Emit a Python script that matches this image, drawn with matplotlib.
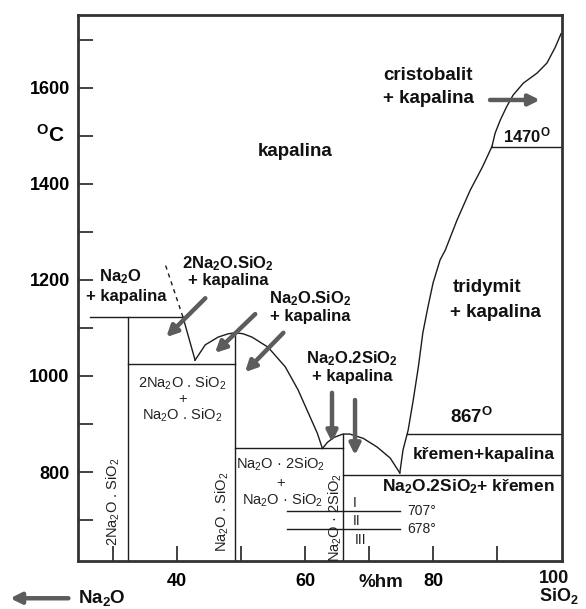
"""Fázový diagram Na2O-SiO2 (kapalina, eutektika, polymorfní přeměny)."""

import matplotlib
matplotlib.use("Agg")
import matplotlib.pyplot as plt

# ---- data: composition in wt% SiO2, temperature in °C ----
x_c2s = 32.3          # 2Na2O.SiO2
x_ns = 49.1           # Na2O.SiO2
x_ns2 = 65.9          # Na2O.2SiO2

# metastable extension of the 2Na2O.SiO2 liquidus (dashed)
dash_x = [38.2, 40.9]
dash_t = [1230, 1123]

# liquidus branches
liq_c2s_x = [40.9, 42.8]
liq_c2s_t = [1123, 1033]
liq_ns_x = [42.8, 44.4, 46.4, 48.0, 49.1, 50.3, 51.7, 54.2, 56.9, 58.9, 60.5, 61.9, 62.7]
liq_ns_t = [1033, 1065, 1081, 1088, 1090, 1088, 1081, 1060, 1019, 971, 923, 881, 849]
liq_ns2_x = [62.7, 63.5, 64.5, 65.9, 67.0, 69.1, 71.25, 73.3, 74.8]
liq_ns2_t = [849, 862, 872, 879, 879, 870, 852, 829, 798]
liq_trid_x = [74.8, 75.3, 76.1, 76.9, 77.7, 78.4, 79.2, 80.0, 81.1, 81.9,
              83.75, 85.8, 87.7, 89.2]
liq_trid_t = [798, 846, 887, 950, 1019, 1090, 1144, 1194, 1242, 1262,
              1325, 1387, 1435, 1478]
liq_crist_x = [89.2, 89.7, 90.5, 91.5, 92.5, 94.1, 96.25, 97.8, 99.1, 100.0]
liq_crist_t = [1478, 1506, 1533, 1561, 1585, 1610, 1631, 1652, 1685, 1713]

# isotherms: (x from, x to, T)
iso_lines = [
    (26.4, 40.9, 1123),   # Na2O + kapalina / peritektikum
    (x_c2s, x_ns, 1024),  # eutektikum 2Na2O.SiO2 + Na2O.SiO2
    (x_ns, x_ns2, 849),   # eutektikum Na2O.SiO2 + Na2O.2SiO2
    (x_ns2, 100.0, 794),  # eutektikum Na2O.2SiO2 + křemen
    (76.0, 100.0, 879),   # křemen / tridymit (867°)
    (89.2, 100.0, 1478),  # tridymit / cristobalit (1470°)
    (57.2, 74.8, 718),    # Na2O.2SiO2 I/II (707°)
    (57.2, 74.8, 681),    # Na2O.2SiO2 II/III (678°)
]

# compound verticals: (x, top T)
compounds = [(x_c2s, 1123), (x_ns, 1090), (x_ns2, 879)]

y_major = [800, 1000, 1200, 1400, 1600]
y_minor = [700, 900, 1100, 1300, 1500, 1700]
x_major = [40, 60, 80]
x_minor = [30, 50, 70, 90]

plt.rcParams["font.family"] = ["Liberation Sans", "DejaVu Sans"]
plt.rcParams["mathtext.default"] = "regular"

LINE = "#1c1c1c"
ARROW = "#5c5c5c"
T_MIN, T_MAX = 614.6, 1752

fig = plt.figure(figsize=(5.86, 6.09), dpi=100)
ax = fig.add_axes([78 / 586, 1 - 561 / 609, 484 / 586, 546 / 609])
ax.set_xlim(24.5, 100.15)
ax.set_ylim(T_MIN, T_MAX)

for s in ax.spines.values():
    s.set_linewidth(2.0)
    s.set_color("#333333")

ax.set_yticks(y_major, [str(v) for v in y_major], fontweight="bold", fontsize=13)
ax.set_yticks(y_minor, minor=True)
ax.set_xticks(x_major, [str(v) for v in x_major], fontweight="bold", fontsize=13)
ax.set_xticks(x_minor, minor=True)
ax.tick_params(which="both", direction="in", length=11, width=1.3, color="#333333")
ax.tick_params(axis="y", pad=6)
ax.tick_params(axis="x", pad=9)

# ---- phase boundaries ----
kw = dict(color=LINE, lw=1.0)
ax.plot(dash_x, dash_t, color=LINE, lw=1.0, ls=(0, (3, 3)))
ax.plot(liq_c2s_x, liq_c2s_t, **kw)
ax.plot(liq_ns_x, liq_ns_t, **kw)
ax.plot(liq_ns2_x, liq_ns2_t, **kw)
ax.plot(liq_trid_x, liq_trid_t, **kw)
ax.plot(liq_crist_x, liq_crist_t, **kw)
for x0, x1, t in iso_lines:
    ax.plot([x0, x1], [t, t], **kw)
for xc, tc in compounds:
    ax.plot([xc, xc], [T_MIN, tc], **kw)

# ---- arrows ----
akw = dict(arrowstyle="-|>", color=ARROW, lw=3.2, mutation_scale=16, shrinkA=0, shrinkB=0)
arrows = [
    ((88.9, 1575), (96.7, 1575)),
    ((44.4, 1162), (38.3, 1081)),
    ((52.2, 1129), (45.9, 1048)),
    ((56.6, 1090), (50.6, 1008)),
    ((64.2, 965), (64.2, 862)),
    ((67.8, 950), (67.8, 835)),
]
for tail, head in arrows:
    ax.annotate("", xy=head, xytext=tail, arrowprops=akw)
ax.annotate("", xy=(13.9, 537), xytext=(23.0, 537), arrowprops=akw, annotation_clip=False)

# ---- labels ----
big = dict(fontsize=13.5, fontweight="bold", color="#111111")
mid = dict(fontsize=12, fontweight="bold", color="#111111")
thin = dict(fontsize=10.5, color="#222222")

ax.text(20.2, 1502, "$^{O}$C", ha="center", va="center", fontsize=15, fontweight="bold")
ax.text(58.4, 1467, "kapalina", ha="center", va="center", **big)
ax.text(72.2, 1627, "cristobalit", ha="left", va="center", **big)
ax.text(72.2, 1579, "+ kapalina", ha="left", va="center", **big)
ax.text(90.9, 1502, "1470$^{O}$", ha="left", va="center", **mid)
ax.text(83.0, 1185, "tridymit", ha="left", va="center", **big)
ax.text(82.65, 1133, "+ kapalina", ha="left", va="center", **big)
ax.text(82.65, 915, "867$^{O}$", ha="left", va="center", **big)
ax.text(76.9, 837, "křemen+kapalina", ha="left", va="center", fontsize=12.5,
        fontweight="bold", color="#111111")
ax.text(72.0, 769, "Na$_2$O.2SiO$_2$+ křemen", ha="left", va="center", fontsize=12.5,
        fontweight="bold", color="#111111")

ax.text(31.1, 1206, "Na$_2$O", ha="center", va="center", **mid)
ax.text(32.0, 1165, "+ kapalina", ha="center", va="center", **mid)
ax.text(48.0, 1235, "2Na$_2$O.SiO$_2$", ha="center", va="center", **mid)
ax.text(48.0, 1198, "+ kapalina", ha="center", va="center", **mid)
ax.text(60.8, 1162, "Na$_2$O.SiO$_2$", ha="center", va="center", **mid)
ax.text(60.8, 1123, "+ kapalina", ha="center", va="center", **mid)
ax.text(67.3, 1037, "Na$_2$O.2SiO$_2$", ha="center", va="center", **mid)
ax.text(67.3, 998, "+ kapalina", ha="center", va="center", **mid)

ax.text(40.8, 985, "2Na$_2$O . SiO$_2$", ha="center", va="center", **thin)
ax.text(40.8, 952, "+", ha="center", va="center", **thin)
ax.text(40.8, 919, "Na$_2$O . SiO$_2$", ha="center", va="center", **thin)
ax.text(56.1, 815, "Na$_2$O · 2SiO$_2$", ha="center", va="center", **thin)
ax.text(56.1, 778, "+", ha="center", va="center", **thin)
ax.text(56.4, 742, "Na$_2$O · SiO$_2$", ha="center", va="center", **thin)

ax.text(30.0, 737, "2Na$_2$O . SiO$_2$", rotation=90, ha="center", va="center", **thin)
ax.text(47.0, 717, "Na$_2$O . SiO$_2$", rotation=90, ha="center", va="center", **thin)
ax.text(64.7, 706, "Na$_2$O · 2SiO$_2$", rotation=90, ha="center", va="center", **thin)

ax.text(75.9, 719, "707°", ha="left", va="center", fontsize=10, color="#222222")
ax.text(75.9, 681, "678°", ha="left", va="center", fontsize=10, color="#222222")
ax.text(67.8, 735, "I", ha="center", va="center", fontsize=10, color="#222222")
ax.text(68.1, 697, "II", ha="center", va="center", fontsize=10, color="#222222")
ax.text(68.6, 658, "III", ha="center", va="center", fontsize=10, color="#222222")

ax.text(71.9, 569, "%hm", ha="center", va="center", **big)
ax.text(96.6, 559, "100\nSiO$_2$", ha="left", va="center", linespacing=0.95,
        fontsize=13, fontweight="bold", color="#111111")
ax.text(24.5, 537, "Na$_2$O", ha="left", va="center", **big)

fig.savefig("out.png", dpi=100)
plt.close(fig)
